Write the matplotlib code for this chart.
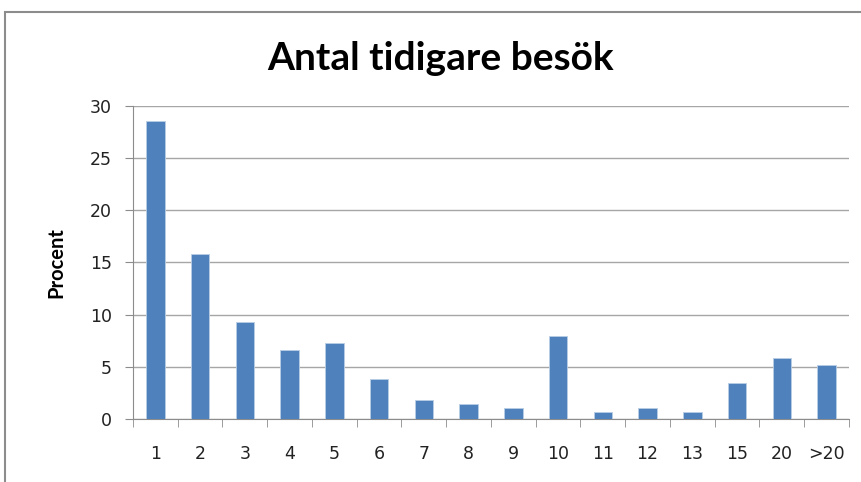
import matplotlib
matplotlib.use("Agg")
import matplotlib.pyplot as plt
from matplotlib.patches import Rectangle
import numpy as np

categories = ["1", "2", "3", "4", "5", "6", "7", "8", "9", "10", "11", "12", "13", "15", "20", ">20"]
values = [28.5, 15.8, 9.3, 6.6, 7.3, 3.8, 1.8, 1.4, 1.05, 7.9, 0.65, 1.05, 0.65, 3.4, 5.85, 5.2]
yticks = [0, 5, 10, 15, 20, 25, 30]

W, H = 862, 482
fig = plt.figure(figsize=(W/100, H/100), dpi=100)
fig.patches.append(Rectangle((5/W, -0.1), 1.2, (H-12)/H + 0.1, transform=fig.transFigure,
                             fill=False, edgecolor="#8c8c8c", linewidth=1.5))

ax = fig.add_axes([133/W, 1-419/H, (849-133)/W, (419-105.7)/H])
x = np.arange(len(categories))
ax.bar(x, values, width=0.41, color="#4f81bd", edgecolor="#b9cde5", linewidth=0.6, zorder=3)
ax.set_xlim(-0.5, len(categories)-0.5)
ax.set_ylim(0, 30)
ax.set_yticks(yticks)
ax.yaxis.grid(True, color="#a6a6a6", linewidth=1)
ax.set_axisbelow(True)
ax.set_xticks(x)
ax.set_xticklabels(categories, fontsize=12.5, color="#222222")
ax.set_xticks(np.arange(-0.5, len(categories)), minor=True)
ax.tick_params(axis="x", which="major", length=0, pad=19)
ax.tick_params(axis="x", which="minor", length=6, color="#8c8c8c")
ax.tick_params(axis="y", length=6, color="#8c8c8c", labelsize=12.5, labelcolor="#222222", pad=9)
for s in ["top", "right"]:
    ax.spines[s].set_visible(False)
for s in ["left", "bottom"]:
    ax.spines[s].set_color("#8c8c8c")
ax.set_ylabel("Procent", fontsize=14.5, fontweight="bold", family="Lato", labelpad=17)
fig.text(441/W, 1-58/H, "Antal tidigare besök", ha="center", va="center",
         fontsize=28, fontweight="bold", family="Lato")
fig.savefig("out.png", dpi=100)
